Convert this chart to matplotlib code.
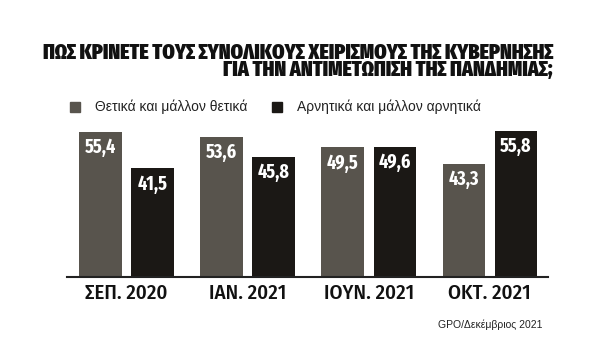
import matplotlib
matplotlib.use("Agg")
import matplotlib.pyplot as plt
from matplotlib.patches import Rectangle
import numpy as np

categories = ["ΣΕΠ. 2020", "ΙΑΝ. 2021", "ΙΟΥΝ. 2021", "ΟΚΤ. 2021"]
positive = [55.4, 53.6, 49.5, 43.3]
negative = [41.5, 45.8, 49.6, 55.8]
series_names = ["Θετικά και μάλλον θετικά", "Αρνητικά και μάλλον αρνητικά"]
title1 = "ΠΩΣ ΚΡΙΝΕΤΕ ΤΟΥΣ ΣΥΝΟΛΙΚΟΥΣ ΧΕΙΡΙΣΜΟΥΣ ΤΗΣ ΚΥΒΕΡΝΗΣΗΣ"
title2 = "ΓΙΑ ΤΗΝ ΑΝΤΙΜΕΤΩΠΙΣΗ ΤΗΣ ΠΑΝΔΗΜΙΑΣ;"
source = "GPO/Δεκέμβριος 2021"

c_pos = "#58544d"
c_neg = "#1b1815"
xcond = ["Fira Sans Extra Condensed", "DejaVu Sans"]
cond = ["Fira Sans Condensed", "DejaVu Sans"]
plain = ["Liberation Sans", "DejaVu Sans"]

fig = plt.figure(figsize=(5.9, 3.52), dpi=100)
fig.patch.set_facecolor("white")
ax = fig.add_axes([67/590, 75/352, 481/590, 157/352])
x = np.arange(len(categories))
w = 0.35
off = 0.215
b1 = ax.bar(x - off, positive, w, color=c_pos)
b2 = ax.bar(x + off, negative, w, color=c_neg)
for bars, vals in ((b1, positive), (b2, negative)):
    for r, v in zip(bars, vals):
        ax.text(r.get_x() + r.get_width()/2, v - 2.2, f"{v:.1f}".replace(".", ","),
                ha="center", va="top", color="white", fontsize=14, fontweight="bold",
                family=xcond)
ax.set_xlim(-0.49, 3.48)
ax.set_ylim(0, 60)
ax.set_yticks([])
ax.set_xticks(x)
ax.set_xticklabels(categories, family=cond, fontsize=15, fontweight="medium", color="#111111")
ax.tick_params(axis="x", length=0, pad=5)
for s in ("top", "right", "left"):
    ax.spines[s].set_visible(False)
ax.spines["bottom"].set_color("#222222")
ax.spines["bottom"].set_linewidth(1.5)

fig.text(553/590, 1 - 76/352, title1 + "\n" + title2, ha="right", va="baseline",
         multialignment="right", linespacing=0.72, fontsize=15.5,
         fontweight="black", family=xcond, color="#111111")

# legend
fig.patches.append(Rectangle((70/590, 1 - 112/352), 10/590, 10/352, transform=fig.transFigure,
                             color=c_pos))
fig.text(95/590, 1 - 107/352, series_names[0], ha="left", va="center", fontsize=10,
         family=plain, color="#222222")
fig.patches.append(Rectangle((272/590, 1 - 112/352), 10/590, 10/352, transform=fig.transFigure,
                             color=c_neg))
fig.text(297/590, 1 - 107/352, series_names[1], ha="left", va="center", fontsize=10,
         family=plain, color="#222222")

fig.text(543/590, 1 - 325/352, source, ha="right", va="center", fontsize=7.5,
         family=plain, color="#222222")

fig.savefig("out.png", dpi=100)
